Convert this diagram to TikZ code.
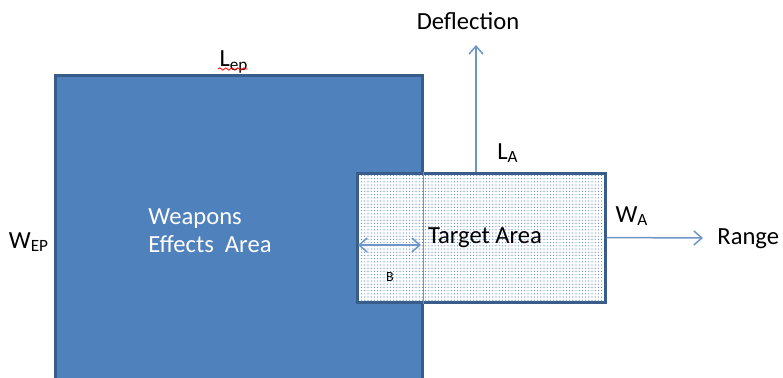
\documentclass[tikz,border=0pt]{standalone}
\usepackage{fontspec}
\setmainfont{Carlito}
\usetikzlibrary{arrows.meta,patterns.meta,positioning,decorations.pathmorphing}

\definecolor{areablue}{RGB}{79,129,189}
\definecolor{edgeblue}{RGB}{56,93,138}
\definecolor{arrowblue}{RGB}{110,150,200}

\begin{document}
\begin{tikzpicture}[x=0.5pt, y=-0.5pt, font=\fontsize{12.3}{14}\selectfont]
  \tikzstyle{effbox} = [rectangle, draw=edgeblue, fill=areablue, line width=1.5pt, inner sep=0pt]
  \tikzstyle{tgtbox} = [rectangle, draw=edgeblue, line width=1.5pt, inner sep=0pt,
                        pattern={Dots[distance=1.6pt, radius=0.3pt]}, pattern color=areablue]
  \tikzstyle{arrow} = [draw=arrowblue, line width=0.75pt, -{Straight Barb[length=4pt, width=7pt]}]
  \tikzstyle{label} = [inner sep=1pt]

  \clip (0,0) rectangle (783,377);

  \node[effbox, minimum width=183.5pt, minimum height=157.5pt] (effects) at (238.5,232.5) {};
  \fill[white] (357,173) rectangle (605,302);
  \node[tgtbox, minimum width=124pt, minimum height=64.5pt] (target) at (481,237.5) {};
  \draw[arrowblue, line width=0.6pt] (effects.north east |- target.north) -- (effects.north east |- target.south);

  \node[text=white, align=left, anchor=west, inner sep=1pt] (weapons) at (146,231) {Weapons\\Effects\ \ Area};
  \node[label] (targetlbl) at (485,238) {Target Area};
  \node[label] (lep) at (234,62) {L\textsubscript{ep}};
  \draw[red, line width=0.4pt, decorate, decoration={snake, amplitude=0.6pt, segment length=3pt}]
    (218,69) -- (248,69);
  \node[label] (wep) at (29,242) {W\textsubscript{EP}};
  \node[label] (la) at (508,153) {L\textsubscript{A}};
  \node[label] (wa) at (632,216) {W\textsubscript{A}};
  \node[label] (deflection) at (468,21) {Deflection};
  \node[label, anchor=west] (range) at (715,239) {Range};
  \node[label, font=\fontsize{7}{8}\selectfont] (b) at (390,277) {B};

  \coordinate (deftip) at (476,45);
  \coordinate (rangetip) at (703,238);
  \coordinate (bleft) at (358,245);
  \coordinate (bright) at (421,245);

  \path[arrow] (target.north -| deftip) -- (deftip);
  \path[arrow] (target.east) -- (rangetip);
  \path[arrow, {Straight Barb[length=4pt, width=7pt]}-{Straight Barb[length=4pt, width=7pt]}] (bleft) -- (bright);
\end{tikzpicture}
\end{document}
